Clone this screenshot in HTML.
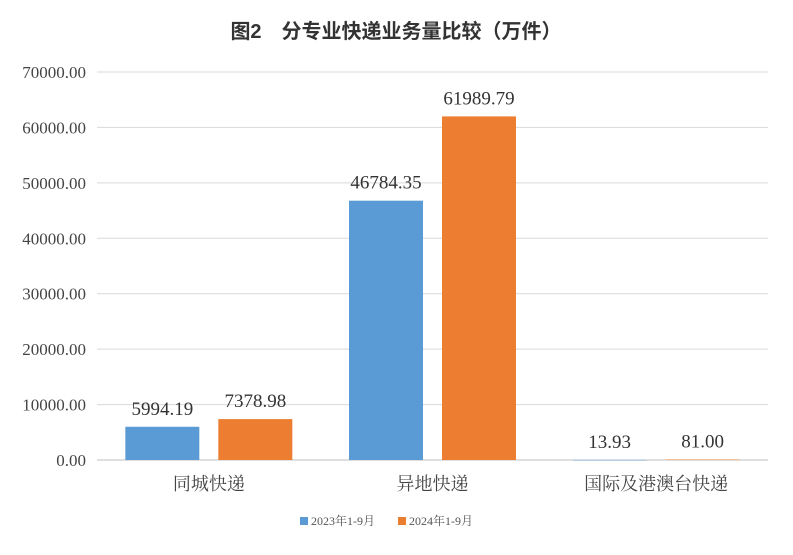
<!DOCTYPE html>
<html><head><meta charset="utf-8"><style>
body{margin:0;background:#fff;}
svg text{font-family:"Liberation Serif","Noto Serif CJK SC",serif;}
</style></head><body>
<svg width="793" height="550" id="c">
<rect width="793" height="550" fill="#fff"/>
<text x="396" y="38" text-anchor="middle" font-size="20" font-weight="bold" fill="#333" style="font-family:'Liberation Sans','Noto Sans CJK SC',sans-serif">图2　分专业快递业务量比较（万件）</text>
<g id="grid"></g><g id="bars"></g>
<g>
<rect x="300" y="517" width="8" height="8" fill="#5b9bd5"/>
<text x="311" y="525" font-size="12" fill="#555">2023年1-9月</text>
<rect x="398" y="517" width="8" height="8" fill="#ed7d31"/>
<text x="409" y="525" font-size="12" fill="#555">2024年1-9月</text>
</g>
</svg>
<script>
const categories=["同城快递","异地快递","国际及港澳台快递"];
const s2023=[5994.19,46784.35,13.93];
const s2024=[7378.98,61989.79,81.00];
const ticks=[0,10000,20000,30000,40000,50000,60000,70000];
const NS="http://www.w3.org/2000/svg";
const x0=97,x1=768,yBase=460,yTop=72,maxV=70000;
const y=v=>yBase-(v/maxV)*(yBase-yTop);
const gw=(x1-x0)/categories.length;
const grid=document.getElementById('grid'),bars=document.getElementById('bars');
function mk(t,a,p){const e=document.createElementNS(NS,t);for(const k in a)e.setAttribute(k,a[k]);p.appendChild(e);return e;}
ticks.forEach(t=>{
 const l=mk('line',{x1:x0,x2:x1,y1:y(t),y2:y(t),stroke:t===0?'#bfbfbf':'#d9d9d9','stroke-width':1},grid);
 
 
 const tx=mk('text',{x:86,y:y(t)+6,'text-anchor':'end','font-size':17,fill:'#444'},grid);
 tx.textContent=t.toFixed(2);
 
 
});
const bw=74,gap=19;
categories.forEach((c,i)=>{
 const cx=x0+gw*(i+0.5);
 [[s2023,'#5b9bd5',cx-gap/2-bw,'2023'],[s2024,'#ed7d31',cx+gap/2,'2024']].forEach(([s,col,bx,yr])=>{
  const v=s[i];
  const r=mk('rect',{x:bx,y:y(v),width:bw,height:Math.max(yBase-y(v),0.5),fill:col},bars);
  
  
  const t=mk('text',{x:bx+bw/2,y:y(v)-12,'text-anchor':'middle','font-size':19,fill:'#333'},bars);
  t.textContent=v.toFixed(2);
  
  
 });
 const cl=mk('text',{x:cx,y:490,'text-anchor':'middle','font-size':18,fill:'#444'},bars);
 cl.textContent=c;
 
 
});
</script>
</body></html>
